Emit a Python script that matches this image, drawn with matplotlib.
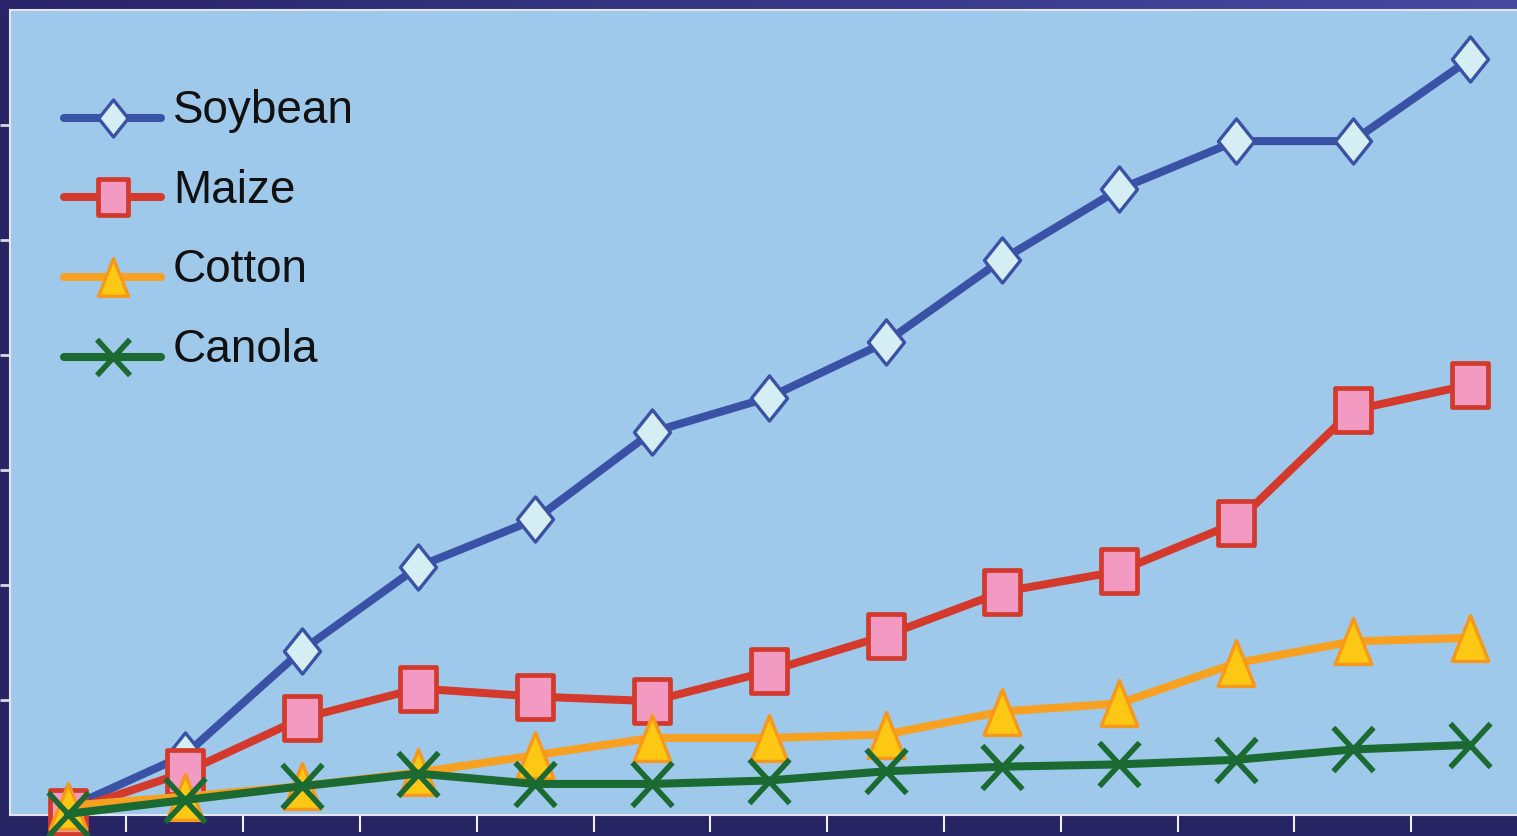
import numpy as np
import matplotlib
matplotlib.use("Agg")
import matplotlib.pyplot as plt
from matplotlib.path import Path
from matplotlib.lines import Line2D
from matplotlib.transforms import Affine2D
from matplotlib.colors import LinearSegmentedColormap

years = list(range(1996, 2009))
soybean = [0.6, 5.2, 14.3, 21.6, 25.7, 33.3, 36.3, 41.1, 48.3, 54.4, 58.6, 58.6, 65.7]
maize = [0.3, 3.7, 8.4, 11.0, 10.3, 9.9, 12.5, 15.6, 19.4, 21.2, 25.4, 35.2, 37.4]
cotton = [0.8, 1.6, 2.5, 3.7, 5.2, 6.7, 6.7, 7.0, 9.0, 9.7, 13.2, 15.1, 15.4]
canola = [0.1, 1.3, 2.5, 3.6, 2.7, 2.7, 3.0, 3.8, 4.2, 4.4, 4.8, 5.7, 6.1]
labels = ["Soybean", "Maize", "Cotton", "Canola"]
y_ticks = [10, 20, 30, 40, 50, 60]

W, H = 1517, 836
fig = plt.figure(figsize=(W / 100, H / 100), dpi=100)
fig.patch.set_facecolor("#272464")

# top gradient band
band = fig.add_axes([0, 1 - 10 / H, 1, 10 / H])
cmap = LinearSegmentedColormap.from_list("b", ["#29256a", "#4549a2"])
band.imshow(np.linspace(0, 1, 256)[None, :], aspect="auto", cmap=cmap, extent=[0, 1, 0, 1])
band.set_axis_off()

left_px, right_px = 9.5, 9.5 + 13 * 116.8
top_px, bot_px = 10, 815
ax = fig.add_axes([left_px / W, (H - bot_px) / H, (right_px - left_px) / W, (bot_px - top_px) / H])
ax.set_facecolor("#9ec9ea")
ax.set_xlim(1995.5, 2008.5)
ax.set_ylim(0, 70)

# custom markers (taller than wide)
diamond = Path([(0, 1), (0.8, 0), (0, -1), (-0.8, 0), (0, 1)], closed=True)
square = Path([(-0.85, -1), (0.85, -1), (0.85, 1), (-0.85, 1), (-0.85, -1)], closed=True)
tri = Path([(0, 1), (0.8, -1), (-0.8, -1), (0, 1)], closed=True)
xmark = Path([(-0.92, -1), (0.92, 1), (-0.92, 1), (0.92, -1)],
             [Path.MOVETO, Path.LINETO, Path.MOVETO, Path.LINETO])

lw = 5.8
common = dict(lw=lw, zorder=3, clip_on=False, solid_capstyle="round", solid_joinstyle="round")
ax.plot(years, soybean, color="#3a52a6", marker=diamond, ms=32.5,
        mfc="#d5eef3", mec="#3a52a6", mew=2.4, label=labels[0], **common)
ax.plot(years, maize, color="#d33a2c", marker=square, ms=31,
        mfc="#f39ac3", mec="#d33a2c", mew=3.4, label=labels[1], **common)
ax.plot(years, cotton, color="#f8a01f", marker=tri, ms=33,
        mfc="#fdc813", mec="#f7981a", mew=2.4, label=labels[2], **common)
ax.plot(years, canola, color="#1b6a32", marker=xmark, ms=31.5,
        mfc="none", mec="#1b6a32", mew=4.0, label=labels[3], **common)

# spines and ticks
for s in ["left", "top", "bottom"]:
    ax.spines[s].set_color("#e4e4f2")
    ax.spines[s].set_linewidth(1.5)
ax.spines["right"].set_visible(False)
ax.set_yticks(y_ticks)
ax.set_yticklabels([])
ax.set_xticks([y + 0.5 for y in years[:-1]])
ax.set_xticklabels([])
ax.tick_params(axis="y", direction="out", length=7, width=2.0, color="#d8d8ec")
ax.tick_params(axis="x", direction="out", length=12, width=1.5, color="#f0f0f8")

leg = ax.legend(loc="upper left", bbox_to_anchor=(54.5 / (right_px - left_px), 1 - 79 / (bot_px - top_px)),
                frameon=False, borderaxespad=0, borderpad=0, handlelength=2.12,
                handletextpad=0.26, labelspacing=0.775, markerscale=0.82,
                prop={"family": "Liberation Sans", "size": 33})
for t in leg.get_texts():
    t.set_color("#111111")
# legend sample lines sit a little below the label text
for ln in leg.findobj(Line2D):
    ln.set_transform(ln.get_transform() + Affine2D().translate(0, -11))

fig.savefig("out.png", dpi=100, facecolor=fig.get_facecolor())
